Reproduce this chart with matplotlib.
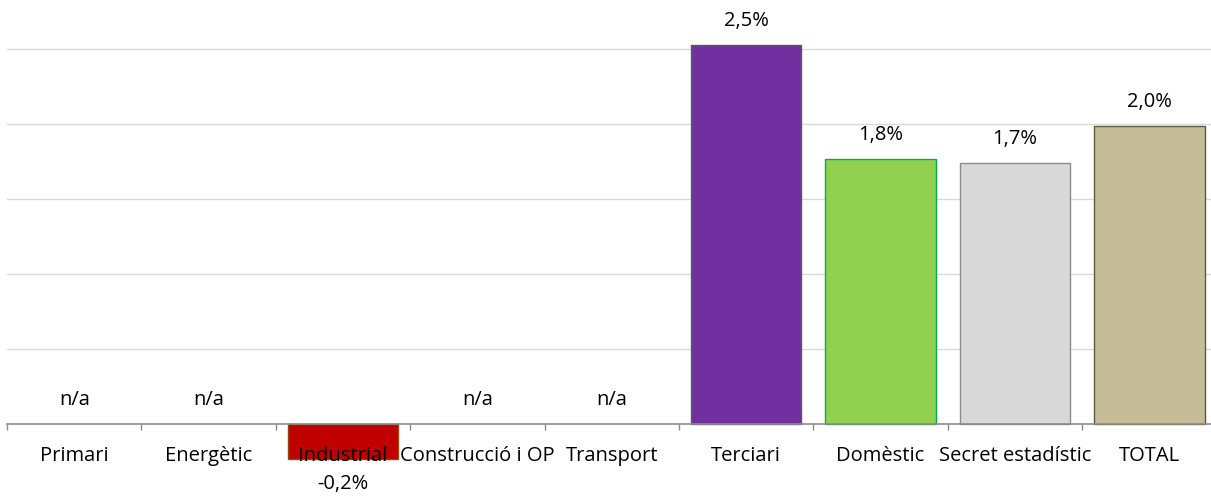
import matplotlib
matplotlib.use("Agg")

import matplotlib.pyplot as plt
import numpy as np

# ── Data ─────────────────────────────────────────────── #
categories = ["Primari", "Energètic", "Industrial", "Construcció i OP", "Transport",
              "Terciari", "Domèstic", "Secret estadístic", "TOTAL"]
values = [np.nan, np.nan, -0.23, np.nan, np.nan, 2.53, 1.77, 1.74, 1.99]

face_colors = ["#7f7f7f", "#7f7f7f", "#C00000", "#7f7f7f", "#7f7f7f",
               "#7030A0", "#92D050", "#D9D9D9", "#C4BD97"]
edge_colors = ["#595959", "#595959", "#984807", "#595959", "#595959",
               "#595959", "#00B050", "#8C8C8C", "#5E5A3E"]

# ── Style ────────────────────────────────────────────── #
FONT = "Open Sans"
TEXT_COLOR = "#000000"
GRID_COLOR = "#D9D9D9"
AXIS_COLOR = "#8C8C8C"
FS = 14.5

fig = plt.figure(figsize=(12.11, 4.96), dpi=100)
# plot area: 134.4 px per category, starting 7 px from the left
ax = fig.add_axes([7 / 1211, 0, 9 * 134.4 / 1211, 1])
ax.set_xlim(-0.5, len(categories) - 0.5)
ax.set_ylim(-72 / 150, 424 / 150)

x = np.arange(len(categories))
vals = np.array(values, dtype=float)
has = ~np.isnan(vals)
ax.bar(x[has], vals[has], width=0.82,
       color=[c for c, h in zip(face_colors, has) if h],
       edgecolor=[c for c, h in zip(edge_colors, has) if h],
       linewidth=1.0, zorder=2)

# gridlines
for g in [0.5, 1.0, 1.5, 2.0, 2.5]:
    ax.axhline(g, color=GRID_COLOR, linewidth=1.0, zorder=1)

# axes styling
for side in ["left", "right", "top"]:
    ax.spines[side].set_visible(False)
ax.spines["bottom"].set_position(("data", 0))
ax.spines["bottom"].set_color(AXIS_COLOR)
ax.spines["bottom"].set_linewidth(1.2)
ax.spines["bottom"].set_zorder(4)
ax.set_yticks([])
# category labels drawn over the bars (Industrial label overlaps its bar)
ax.xaxis.set_zorder(5)

ax.set_xticks(x)
ax.set_xticklabels(categories, fontsize=FS, family=FONT, color=TEXT_COLOR)
ax.tick_params(axis="x", which="major", length=0, pad=16)
ax.set_xticks(np.arange(-0.5, len(categories) + 0.5, 1), minor=True)
ax.tick_params(axis="x", which="minor", length=4, width=1.0, color=AXIS_COLOR,
               direction="out")

# value labels
for xi, v in zip(x, vals):
    if np.isnan(v):
        ax.annotate("n/a", xy=(xi, 0), xytext=(0, 10), textcoords="offset points",
                    ha="center", va="bottom", fontsize=FS, family=FONT,
                    color=TEXT_COLOR)
    else:
        txt = f"{v:.1f}%".replace(".", ",")
        off = 10 if v >= 0 else -11
        ax.annotate(txt, xy=(xi, v), xytext=(0, off), textcoords="offset points",
                    ha="center", va="bottom" if v >= 0 else "top",
                    fontsize=FS, family=FONT, color=TEXT_COLOR)

fig.savefig("out.png", dpi=100, facecolor="white")
